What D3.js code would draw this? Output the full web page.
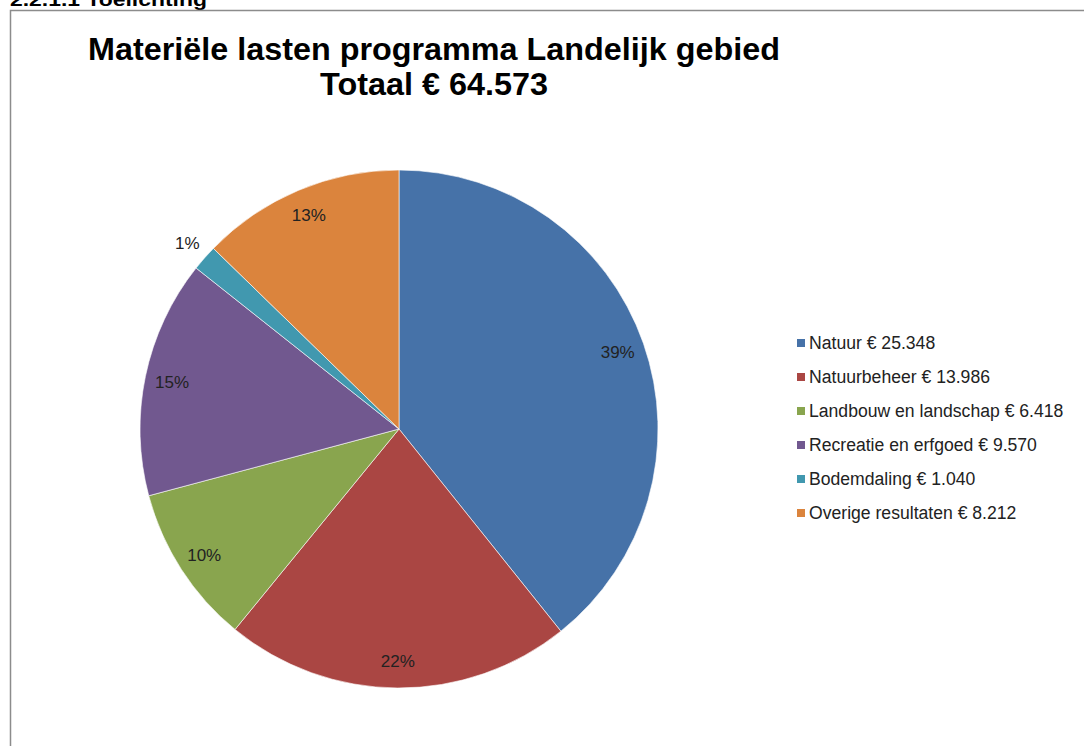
<!DOCTYPE html>
<html>
<head>
<meta charset="utf-8">
<script src="https://cdn.jsdelivr.net/npm/d3@7"></script>
<style>
  body { margin: 0; background: #fff; }
  svg { display: block; font-family: "Liberation Sans", Arial, sans-serif; }
</style>
</head>
<body>
<svg class="main-svg"></svg>
<script>
var categories = ['Natuur', 'Natuurbeheer', 'Landbouw en landschap', 'Recreatie en erfgoed', 'Bodemdaling', 'Overige resultaten'];
var values = [25348, 13986, 6418, 9570, 1040, 8212];
var amountLabels = ['€ 25.348', '€ 13.986', '€ 6.418', '€ 9.570', '€ 1.040', '€ 8.212'];
var pctLabels = ['39%', '22%', '10%', '15%', '1%', '13%'];
var colours = ['#4672a8', '#aa4643', '#89a54e', '#71588f', '#4198af', '#db843d'];
var titleLines = ['Materiële lasten programma Landelijk gebied', 'Totaal € 64.573'];

var width = 1084,
    height = 746,
    cx = 399,
    cy = 429,
    radius = 259;

var svg = d3.select('.main-svg')
      .attr('width', width)
      .attr('height', height);

// heading cut off at the top of the page
svg.append('text')
  .attr('x', 10)
  .attr('y', 6)
  .attr('font-size', 19)
  .attr('font-weight', 'bold')
  .attr('textLength', 197)
  .attr('lengthAdjust', 'spacingAndGlyphs')
  .text('2.2.1.1 Toelichting');

// chart frame
svg.append('rect')
  .attr('x', 10.5)
  .attr('y', 10.5)
  .attr('width', width + 20)
  .attr('height', height + 20)
  .attr('fill', '#fff')
  .attr('stroke', '#8c8c8c')
  .attr('stroke-width', 1.5);

// title
var titleWidths = [692, 228];
svg.selectAll('.title')
  .data(titleLines)
  .enter()
  .append('text')
  .attr('class', 'title')
  .attr('x', 434)
  .attr('y', (d, i) => 60 + i*35)
  .attr('text-anchor', 'middle')
  .attr('font-size', 31)
  .attr('font-weight', 'bold')
  .attr('fill', '#000')
  .attr('textLength', (d, i) => titleWidths[i])
  .attr('lengthAdjust', 'spacingAndGlyphs')
  .text(d => d);

var total = d3.sum(values);
var pie = d3.pie().sort(null).value(d => d);
var arcs = pie(values);

var arc = d3.arc().innerRadius(0).outerRadius(radius);
var labelArc = d3.arc().innerRadius(radius*0.895).outerRadius(radius*0.895);
var outerLabelArc = d3.arc().innerRadius(radius + 23).outerRadius(radius + 23);

var g = svg.append('g').attr('transform', 'translate(' + cx + ',' + cy + ')');

g.selectAll('path')
  .data(arcs)
  .enter()
  .append('path')
  .attr('d', arc)
  .attr('fill', (d, i) => colours[i])
  .attr('stroke', '#fff')
  .attr('stroke-opacity', 0.6)
  .attr('stroke-width', 1);

// small slices get their label outside the pie
g.selectAll('.pct')
  .data(arcs)
  .enter()
  .append('text')
  .attr('class', 'pct')
  .attr('transform', d => {
    var p = (d.value/total < 0.02 ? outerLabelArc : labelArc).centroid(d);
    return 'translate(' + p[0] + ',' + p[1] + ')';
  })
  .attr('text-anchor', 'middle')
  .attr('dy', '0.35em')
  .attr('font-size', 17)
  .attr('fill', '#222')
  .text((d, i) => pctLabels[i]);

// legend
var legend = svg.append('g').attr('transform', 'translate(797,343)');
var rows = legend.selectAll('g')
  .data(categories)
  .enter()
  .append('g')
  .attr('transform', (d, i) => 'translate(0,' + i*34 + ')');

rows.append('rect')
  .attr('x', 0)
  .attr('y', -4)
  .attr('width', 8)
  .attr('height', 8)
  .attr('fill', (d, i) => colours[i]);

rows.append('text')
  .attr('x', 12)
  .attr('dy', '0.35em')
  .attr('font-size', 17.6)
  .attr('fill', '#222')
  .text((d, i) => d + ' ' + amountLabels[i]);
</script>
</body>
</html>
